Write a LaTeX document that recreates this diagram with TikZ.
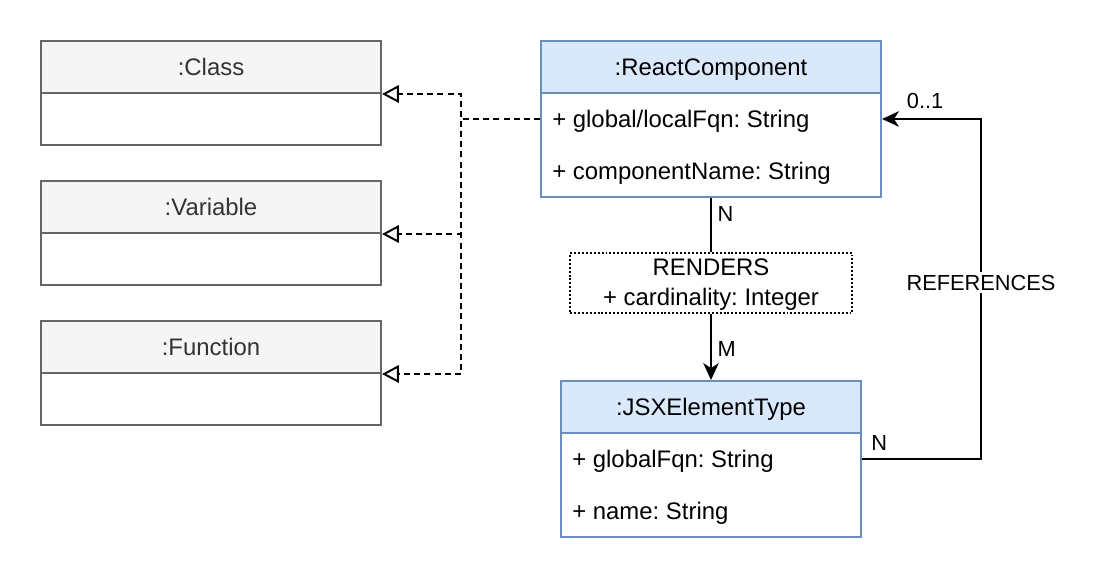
\documentclass[tikz,border=0pt]{standalone}
\usepackage{fontspec}
\setmainfont{Liberation Sans}
\usetikzlibrary{arrows.meta}
\definecolor{umlgray}{HTML}{666666}
\definecolor{umlgrayfill}{HTML}{F5F5F5}
\definecolor{umltext}{HTML}{333333}
\definecolor{umlblue}{HTML}{6C8EBF}
\definecolor{umlbluefill}{HTML}{DAE8FC}
\frenchspacing

\begin{document}
\begin{tikzpicture}[x=0.025cm,y=-0.025cm,
 font=\fontsize{17}{21.3}\selectfont,
 box/.style={draw,line width=1.4pt,minimum width=8.5cm,inner sep=0pt,text height=16pt,text depth=3.6pt},
 grayhdr/.style={box,draw=umlgray,fill=umlgrayfill,text=umltext,minimum height=1.3cm},
 graybody/.style={box,draw=umlgray,minimum height=1.3cm},
 bluehdr/.style={box,draw=umlblue,fill=umlbluefill,minimum height=1.3cm},
 bluebody/.style={box,draw=umlblue,minimum height=2.6cm},
 field/.style={anchor=west,inner sep=0pt,text height=16pt,text depth=3.6pt},
 rel/.style={draw,line width=1.4pt,dash pattern=on 1.4pt off 1.4pt,minimum width=7.05cm,minimum height=1.5cm,align=center,inner sep=0pt},
 lbl/.style={font=\fontsize{15.5}{18}\selectfont,inner sep=2pt},
 real/.style={line width=1.4pt,dash pattern=on 4.3pt off 2.9pt,-{Triangle[open,length=12pt,width=12.5pt]}},
 arr/.style={line width=1.4pt,-{Stealth[length=12pt,width=11pt,inset=3.5pt]}}
]
\useasboundingbox (0,0) rectangle (1096,584);

% left column
\node[grayhdr] (clsh) at (211,67) {:Class};
\node[graybody] (clsb) at (211,119) {};
\node[grayhdr] (varh) at (211,207) {:Variable};
\node[graybody] (varb) at (211,259) {};
\node[grayhdr] (funh) at (211,347) {:Function};
\node[graybody] (funb) at (211,399) {};

% react component
\node[bluehdr] (rch) at (711,67) {:ReactComponent};
\node[bluebody] (rcb) at (711,145) {};
\node[field] (rcf1) at (552,119) {+ global/localFqn: String};
\node[field] (rcf2) at (552,171) {+ componentName: String};

% jsx element type
\node[bluehdr,minimum width=7.5cm] (jxh) at (711,407) {:JSXElementType};
\node[bluebody,minimum width=7.5cm] (jxb) at (711,485) {};
\node[field] (jxf1) at (572,459) {+ globalFqn: String};
\node[field] (jxf2) at (572,511) {+ name: String};

% relation
\node[rel] (rend) at (711,283) {};
\node[inner sep=0pt,align=center] (rendtxt) at (711,285) {RENDERS\\+ cardinality: Integer};

\coordinate (jn) at (461,119);
\draw[real] (rcb.west |- rcf1) -- (jn) |- (clsh.south east);
\draw[real] (rcb.west |- rcf1) -- (jn) |- (varh.south east);
\draw[real] (rcb.west |- rcf1) -- (jn) |- (funh.south east);

\draw[line width=1.4pt] (rcb.south) -- node[lbl,pos=0.3,anchor=west,xshift=2pt] {N} (rend.north);
\draw[arr] (rend.south) -- node[lbl,pos=0.53,anchor=west,xshift=2pt] {M} (jxh.north);

\coordinate (refc) at (981,459);
\draw[arr] (jxb.east |- jxf1) node[lbl,anchor=south west,xshift=4pt,yshift=3.5pt] {N}
  -- (refc) -- node[lbl,fill=white,pos=0.518] {REFERENCES} (refc |- rcf1)
  -- (rcb.east |- rcf1) node[lbl,anchor=south west,xshift=15pt,yshift=4.4pt] {0..1};
\end{tikzpicture}
\end{document}
